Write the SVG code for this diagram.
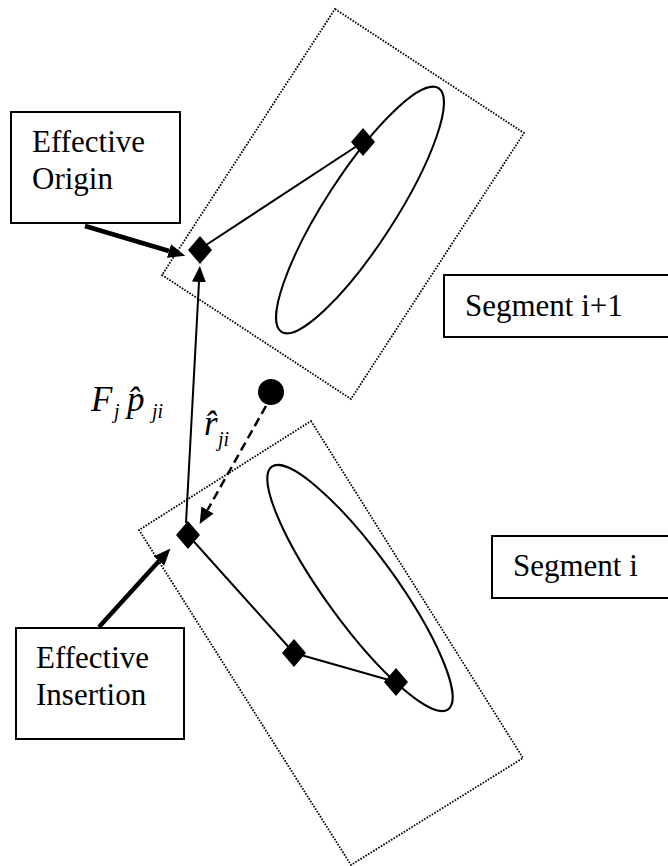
<svg xmlns="http://www.w3.org/2000/svg" width="668" height="866" viewBox="0 0 668 866">
<style>
.box{fill:#fff;stroke:#000;stroke-width:2}
.seg{fill:none;stroke:#000;stroke-width:1.8;stroke-dasharray:1.6 1.4}
.ell{fill:none;stroke:#000;stroke-width:2}
.ln{stroke:#000;stroke-width:2;fill:none}
.thick{stroke:#000;stroke-width:4.5;fill:none}
.dash{stroke:#000;stroke-width:2.5;fill:none;stroke-dasharray:9 5}
.lbl{font-family:"Liberation Serif","Times New Roman",serif;font-size:31px;fill:#000}
.math{font-family:"Liberation Serif","Times New Roman",serif;font-style:italic;fill:#000}
</style>
<defs>
<marker id="ah" markerUnits="userSpaceOnUse" markerWidth="20" markerHeight="20" refX="0" refY="7" orient="auto" viewBox="0 0 20 20">
<path d="M0,0 L17,7 L0,14 z" fill="#000"/>
</marker>
<marker id="ahs" markerUnits="userSpaceOnUse" markerWidth="20" markerHeight="20" refX="0" refY="7" orient="auto" viewBox="0 0 20 20">
<path d="M0,0 L16,7 L0,14 z" fill="#000"/>
</marker>
<path id="dia" d="M0,-14 L12,0 L0,14 L-12,0 z" fill="#000"/>
</defs>

<g id="segment-upper">
<polygon class="seg" points="335,9 524,133 351,399 162,275"/>
<ellipse class="ell" cx="360" cy="210" rx="145" ry="35" transform="rotate(-57.2 360 210)"/>
</g>
<g id="segment-lower">
<polygon class="seg" points="311,421 523,758 351,865 139,530"/>
<ellipse class="ell" cx="360" cy="588" rx="150" ry="35" transform="rotate(54 360 588)"/>
</g>

<g id="connectors">
<line class="ln" x1="200" y1="249" x2="363" y2="142"/>
<line class="ln" x1="188" y1="535" x2="294" y2="653"/>
<line class="ln" x1="294" y1="653" x2="396" y2="682"/>
<line class="thick" x1="85" y1="226" x2="169" y2="251" marker-end="url(#ah)"/>
<line class="thick" x1="99" y1="627" x2="159" y2="561" marker-end="url(#ah)"/>
<line class="ln" x1="186" y1="523" x2="199" y2="282" marker-end="url(#ahs)"/>
<line class="dash" x1="266" y1="406" x2="207.5" y2="510" marker-end="url(#ahs)"/>
</g>

<g id="diamond-origin"><use href="#dia" x="200" y="250"/></g>
<g id="diamond-upper"><use href="#dia" x="363" y="142"/></g>
<g id="diamond-insertion"><use href="#dia" x="188" y="535"/></g>
<g id="diamond-mid"><use href="#dia" x="294" y="653"/></g>
<g id="diamond-lower"><use href="#dia" x="396" y="682"/></g>
<g id="center-dot"><circle cx="271" cy="392" r="13" fill="#000"/></g>

<g id="label-origin">
<rect class="box" x="11" y="112" width="169" height="111"/>
<text class="lbl" x="32" y="152">Effective</text>
<text class="lbl" x="32" y="189">Origin</text>
</g>
<g id="label-insertion">
<rect class="box" x="16" y="628" width="168" height="111"/>
<text class="lbl" x="36" y="668">Effective</text>
<text class="lbl" x="36" y="705">Insertion</text>
</g>
<g id="label-seg-i1">
<rect class="box" x="444" y="275" width="230" height="62"/>
<text class="lbl" x="465" y="316">Segment i+1</text>
</g>
<g id="label-seg-i">
<rect class="box" x="492" y="536" width="190" height="62"/>
<text class="lbl" x="513" y="576">Segment i</text>
</g>

<g id="label-force">
<text class="math" x="91" y="411" font-size="35">F</text>
<text class="math" x="114" y="418" font-size="20">j</text>
<text class="math" x="127" y="411" font-size="35">p&#x302;</text>
<text class="math" x="152" y="418" font-size="20">ji</text>
</g>
<g id="label-r">
<text class="math" x="204" y="435" font-size="35">r&#x302;</text>
<text class="math" x="218" y="446" font-size="20">ji</text>
</g>
</svg>
